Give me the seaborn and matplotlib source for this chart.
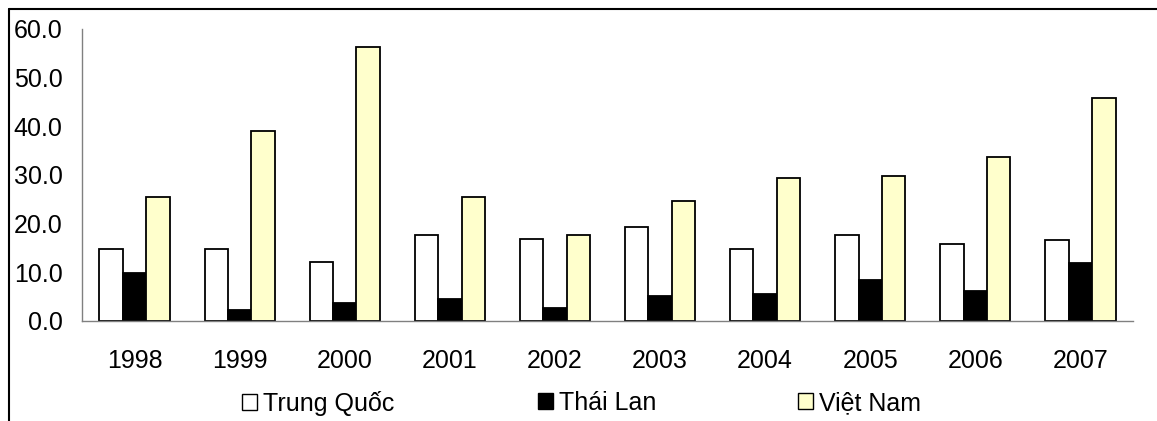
import matplotlib
matplotlib.use("Agg")
import matplotlib.pyplot as plt
from matplotlib.patches import Patch
from matplotlib.lines import Line2D
from matplotlib.ticker import FormatStrFormatter, FixedLocator
import seaborn as sns
import pandas as pd

years = ["1998", "1999", "2000", "2001", "2002", "2003", "2004", "2005", "2006", "2007"]
series_names = ["Trung Quốc", "Thái Lan", "Việt Nam"]
trung_quoc = [14.8, 14.8, 12.2, 17.7, 16.9, 19.4, 14.8, 17.7, 15.8, 16.6]
thai_lan = [9.8, 2.3, 3.7, 4.5, 2.6, 5.2, 5.5, 8.4, 6.2, 12.0]
viet_nam = [25.5, 39.1, 56.2, 25.4, 17.6, 24.7, 29.3, 29.8, 33.8, 45.9]
colors = ["#FFFFFF", "#000000", "#FFFFCC"]

df = pd.DataFrame({
    "year": years * 3,
    "country": [series_names[0]] * 10 + [series_names[1]] * 10 + [series_names[2]] * 10,
    "value": trung_quoc + thai_lan + viet_nam,
})

sns.set_style("white")
plt.rcParams["font.family"] = ["Liberation Sans", "DejaVu Sans"]
plt.rcParams["text.color"] = "black"
plt.rcParams["xtick.labelcolor"] = "black"
plt.rcParams["ytick.labelcolor"] = "black"

W, H = 1157, 421
fig = plt.figure(figsize=(W / 100, H / 100), dpi=100)
ax = fig.add_axes([82 / W, 1 - 321 / H, (1133 - 82) / W, (321 - 29) / H])

sns.barplot(data=df, x="year", y="value", hue="country", order=years,
            hue_order=series_names, palette=colors, width=0.667,
            edgecolor="black", linewidth=1.3, saturation=1, legend=False, ax=ax)

ax.set_xlim(-0.5, len(years) - 0.5)
ax.set_ylim(0, 60)
ax.set_yticks([0, 10, 20, 30, 40, 50, 60])
ax.yaxis.set_major_formatter(FormatStrFormatter("%.1f"))
ax.set_xlabel("")
ax.set_ylabel("")

# category boundary ticks on the x axis
ax.xaxis.set_minor_locator(FixedLocator([i - 0.5 for i in range(len(years) + 1)]))
ax.tick_params(axis="x", which="major", length=0, pad=20, labelsize=18)
ax.tick_params(axis="x", which="minor", length=7, width=1, color="#808080", direction="out")
ax.tick_params(axis="y", which="major", length=7, width=1, color="#808080",
               direction="out", labelsize=18, pad=7)

for side in ["top", "right"]:
    ax.spines[side].set_visible(False)
for side in ["left", "bottom"]:
    ax.spines[side].set_color("#808080")
    ax.spines[side].set_linewidth(1)

# outer frame lines along the top and left edges
fig.add_artist(Line2D([9 / W, 1.0], [1 - 9 / H, 1 - 9 / H],
                      transform=fig.transFigure, color="black", linewidth=1.5))
fig.add_artist(Line2D([9 / W, 9 / W], [0.0, 1 - 9 / H],
                      transform=fig.transFigure, color="black", linewidth=1.5))

# legend entries placed one by one along the bottom
legend_x = [242, 538, 798]
for name, col, x in zip(series_names, colors, legend_x):
    handle = Patch(facecolor=col, edgecolor="black", linewidth=1.0)
    fig.legend([handle], [name], loc="center left",
               bbox_to_anchor=(x / W, 1 - 403 / H),
               frameon=False, fontsize=18, handlelength=0.6, handleheight=0.6,
               handletextpad=0.25, borderpad=0, borderaxespad=0)

fig.savefig("out.png", dpi=100)
